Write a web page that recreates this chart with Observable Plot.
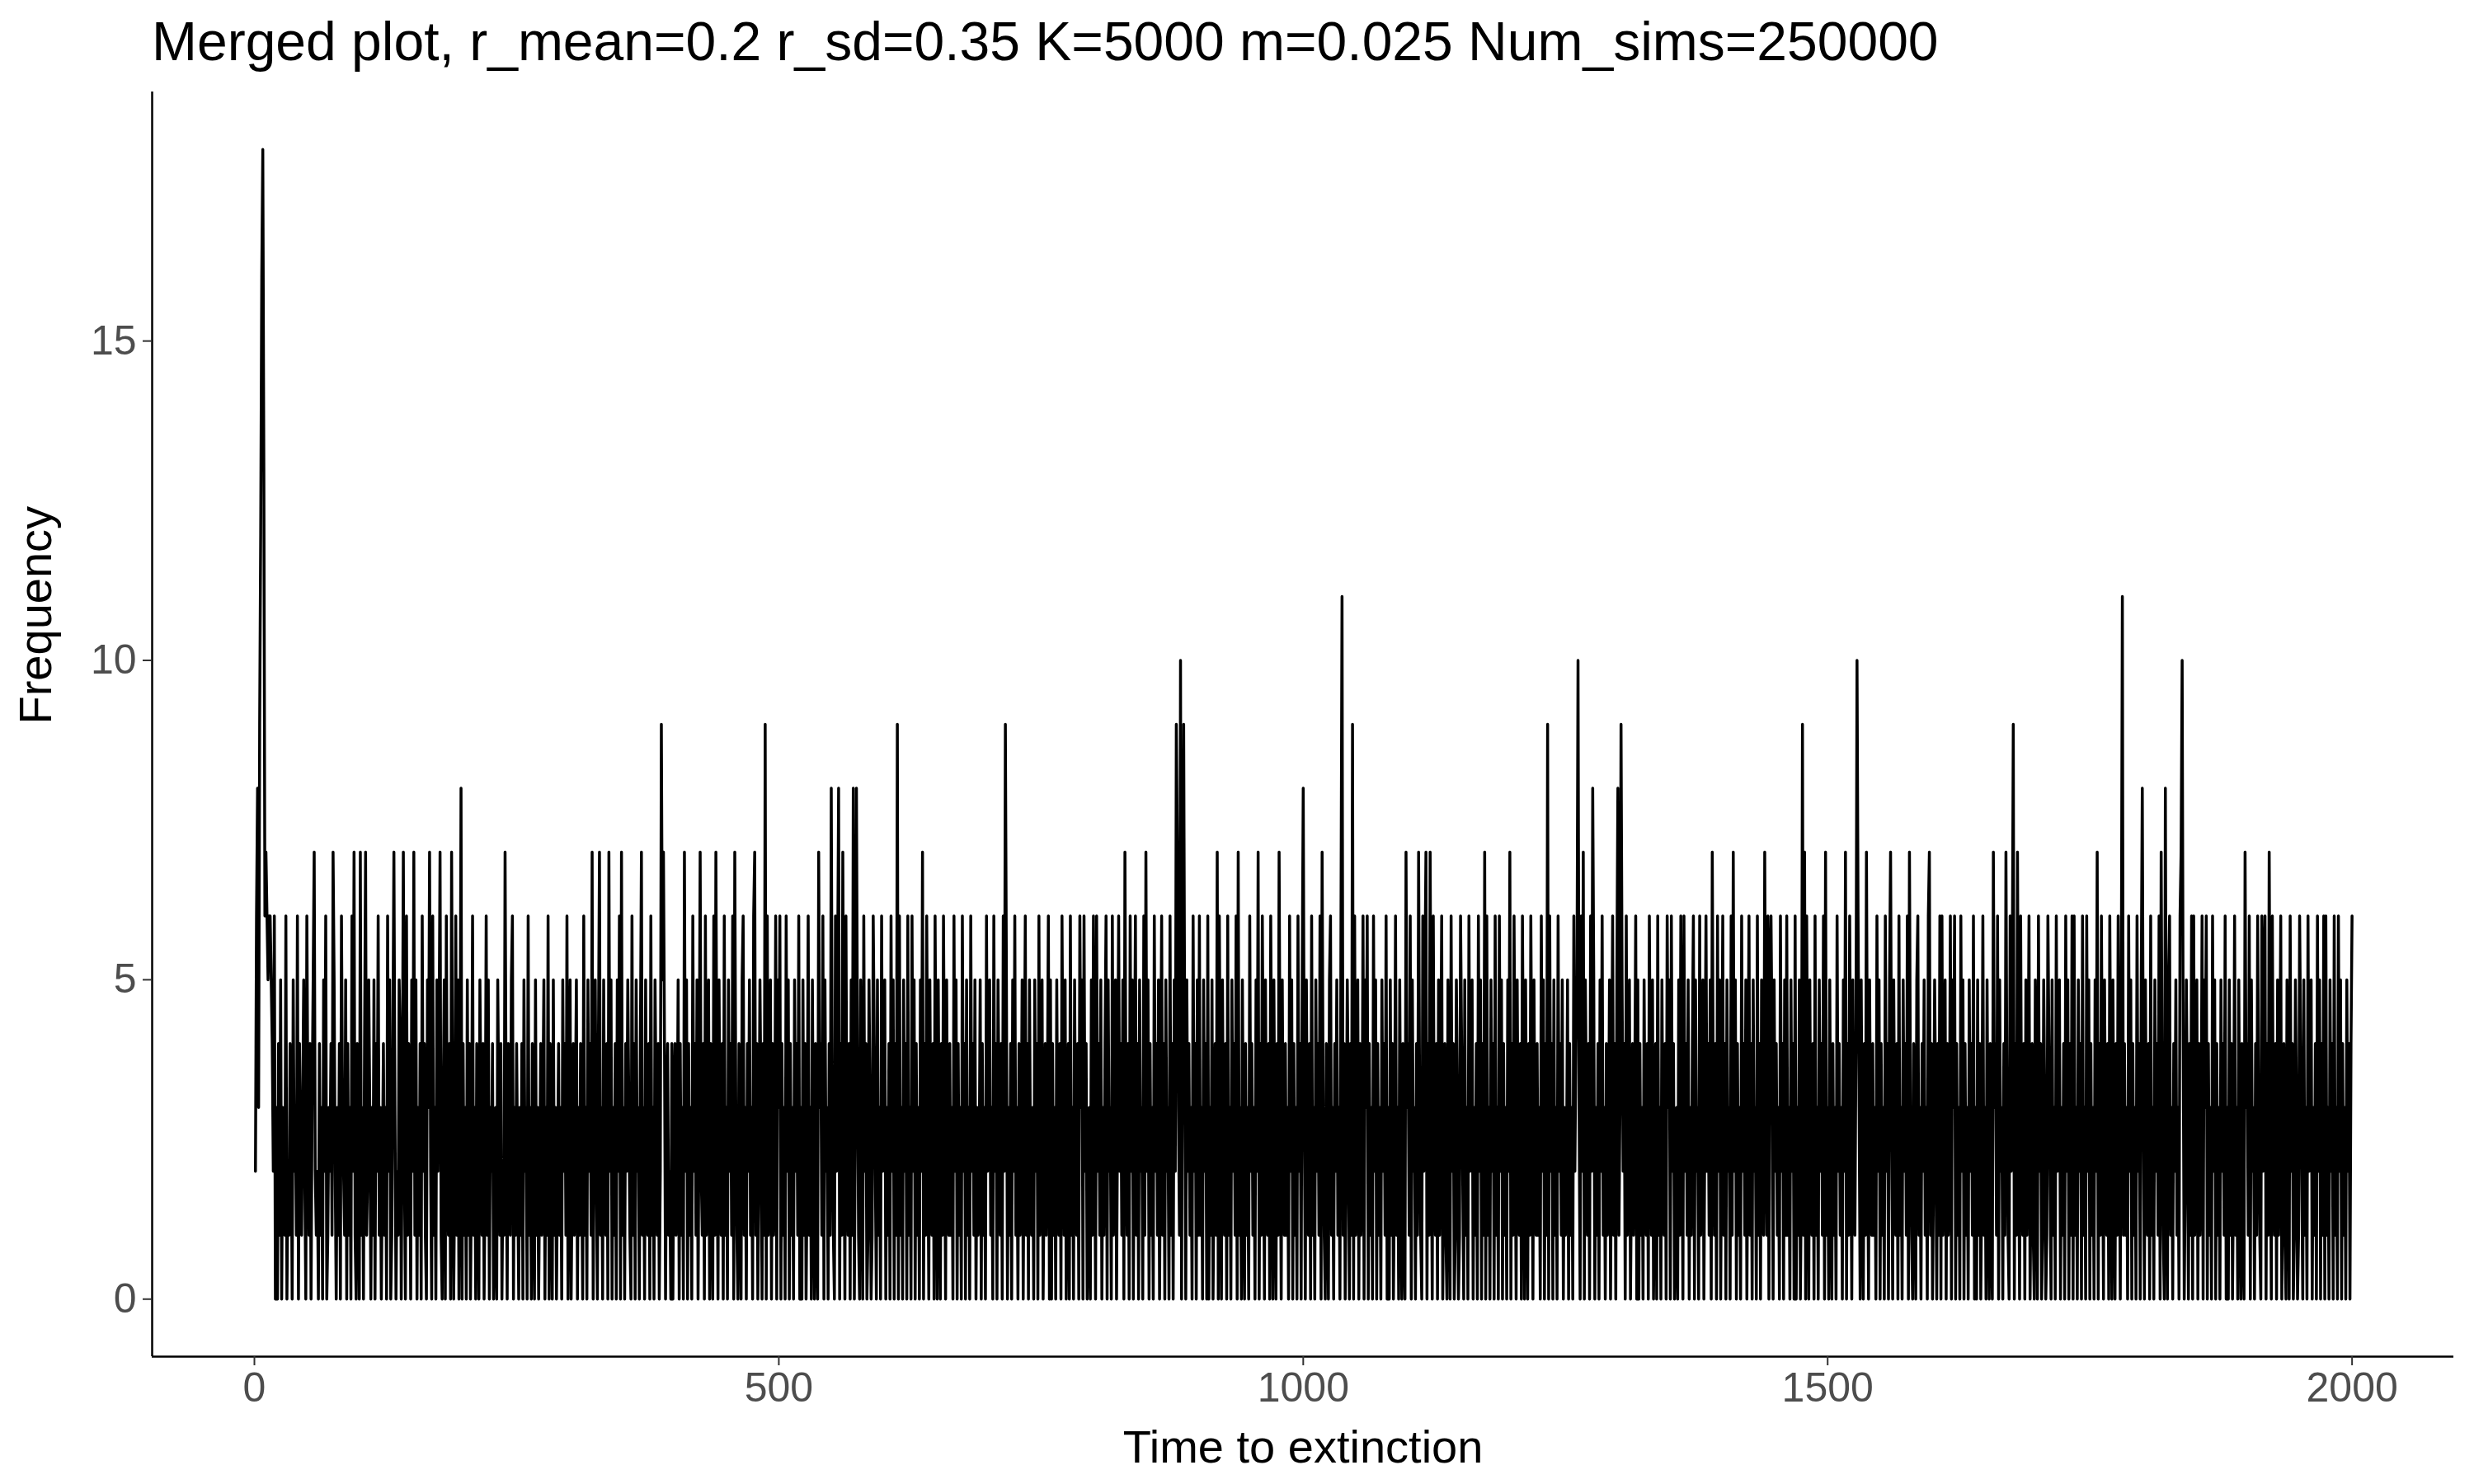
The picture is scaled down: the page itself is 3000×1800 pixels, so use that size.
<!DOCTYPE html>
<html>
<head>
<meta charset="utf-8">
<script src="https://cdn.jsdelivr.net/npm/d3@7"></script>
<script src="https://cdn.jsdelivr.net/npm/@observablehq/plot@0.6"></script>
<style>
  body { margin: 0; background: #fff; font-family: Arial, "Liberation Sans", sans-serif; }
  #title { height: 90px; padding-left: 184px; font-size: 66px; line-height: 100px; color: #000; }
</style>
</head>
<body>
<div id="title">Merged plot, r_mean=0.2 r_sd=0.35 K=5000 m=0.025 Num_sims=250000</div>
<div id="chart"></div>
<script>
// frequency per time step, 100 per chunk (1..2000)
var freqChunks = [
  "2683999996 7656654260 3041503216 0214305231 6042135206 3140357212 0413052601 3241752031 4063215041 3062710420",
  "7130471253 0315042613 0241306250 1473021540 3720614305 2715031406 2410537206 1305247103 5062140730 2615038041",
  "3051402613 0420531402 6150324013 0531402173 0421560314 2031405230 6130420513 0241350316 0420513024 1305241603",
  "5024135031 4206130524 1703520471 3052140725 0314052607 1304253106 1405230471 3052140613 0531402957 4034120403",
  "4125041307 2504130624 1503721406 1350420617 3052140613 0524160731 0420561304 2513067140 2530419061 3504126053",
  "6041306250 4130524160 3051402613 0520410734 1605230418 3106258041 7306214051 8038410530 6240153016 4205130624",
  "5031406250 4190613052 4061306250 4130527041 6305214063 0520416305 2141306250 4130624051 3062415031 2504130624",
  "5130624053 1406295031 4052613041 2503614052 1305240613 5024136050 4130521406 3150240613 0521406350 6240130516",
  "3062415031 4605230614 5036241507 3140625036 1405230617 2504130624 1503614052 3061405297 3160594052 4130624051",
  "6130524060 3150241706 3052140613 0524160713 0520413062 4130527041 6305214063 0520417305 2141306250 4130624058",
  "3052140613 0524160731 0420561304 2513067140 2530419061 3504126053 6041306250 4130524160 3051402613 0520410734",
  "1605230417 3106257041 7306214051 3602410530 6240153016 4205130624 5031406250 4170613052 4061306250 4130527041",
  "6305214063 0520416305 2141306250 4190624051 3062415031 2504130624 5130627053 1406285031 4052613041 2503614058",
  "1395240613 5024136050 4130521406 3150240613 0521406350 6240130516 3062415031 4605230614 5036241507 3140625036",
  "1405230617 2504130624 1503614052 3061405217 3160564052 4130624051 6130524060 3150291706 3052140613 0524160713",
  "0520413062 4130527041 6305214063 0520417305 2141306250 4130624057 3052140613 0524160731 0420561304 2513067140",
  "2530416061 3504126053 6041306250 4130524160 3051402613 0520410734 1605230417 3106259041 7306214051 3602410530",
  "6240153016 4205130624 5031406250 4160613052 4061306250 4130527041 6305214063 0520416305 2141306250 4130624058",
  "3052140613 0524160731 0820561304 2513067140 2530416061 3504126053 6041306250 4130524160 3051402613 0520410734",
  "1605230416 3106256041 7306214051 3602410530 6240153016 4205130624 5031406250 4160613052 4061306250 4130524046"
];
// peaks of 10 or more
var bigTimes = [6, 7, 8, 9, 883, 1037, 1262, 1528, 1781, 1838];
var bigValues = [12, 16, 18, 13, 10, 11, 10, 10, 11, 10];
var xTicks = [0, 500, 1000, 1500, 2000];
var yTicks = [0, 5, 10, 15];

var digits = freqChunks.join("").replace(/\s/g, "");
var data = Array.from(digits, (c, i) => ({ time: i + 1, freq: +c }));
bigTimes.forEach((t, i) => { data[t - 1].freq = bigValues[i]; });

var xDomain = [-97.5, 2097], yDomain = [-0.9, 18.9];

var chart = Plot.plot({
  width: 3000,
  height: 1710,
  marginTop: 21,
  marginBottom: 155,
  marginLeft: 184,
  marginRight: 25,
  style: { fontFamily: "Arial, 'Liberation Sans', sans-serif", background: "#fff" },
  x: { domain: xDomain },
  y: { domain: yDomain },
  marks: [
    Plot.line(data, { x: "time", y: "freq", stroke: "#000", strokeWidth: 3.5 }),
    Plot.ruleY([yDomain[0]], { stroke: "#000", strokeWidth: 2.5 }),
    Plot.ruleX([xDomain[0]], { stroke: "#000", strokeWidth: 2.5 }),
    Plot.axisX({ ticks: xTicks, tickFormat: d3.format("d"), tickSize: 11, tickPadding: 8, fontSize: 50, color: "#4d4d4d", stroke: "#333", strokeWidth: 2, label: null }),
    Plot.axisY({ ticks: yTicks, tickSize: 11, tickPadding: 8, fontSize: 50, color: "#4d4d4d", stroke: "#333", strokeWidth: 2, label: null }),
    Plot.text(["Time to extinction"], { frameAnchor: "bottom", dy: 128, fontSize: 56, fill: "#000" }),
    Plot.text(["Frequency"], { frameAnchor: "left", dx: -140, rotate: -90, fontSize: 56, fill: "#000" })
  ]
});
d3.select("#chart").append(() => chart);
</script>
</body>
</html>
